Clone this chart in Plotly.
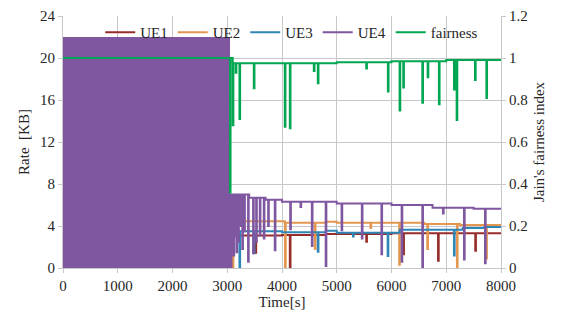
import numpy as np
import plotly.graph_objects as go

# ---------------- data ----------------
# Burst phase: every UE oscillates rapidly between these bounds [KB]
burst_t = [0, 3050]
burst_low = [0, 0]
burst_high = [22, 22]

# Steady phase: base levels (step breakpoints) and short dips, Rate [KB]
ue1_base_t = [3050, 4000, 4800, 6000, 8000]
ue1_base_v = [3.1, 3.15, 3.25, 3.3, 3.3]
ue1_dip_t = [3516, 4143, 5539, 6215, 6850, 7530]
ue1_dip_v = [1.45, 0.0, 2.5, 1.3, 0.7, 1.65]

ue2_base_t = [3050, 4050, 4800, 5000, 6600, 7250, 8000]
ue2_base_v = [4.45, 4.3, 4.4, 4.3, 4.2, 4.1, 4.1]
ue2_dip_t = [3100, 4055, 4600, 5617, 6140, 6654, 7195, 7730]
ue2_dip_v = [0.0, 0.0, 1.8, 3.8, 0.3, 1.8, 0.1, 0.9]

ue3_base_t = [3050, 4000, 4800, 5000, 6150, 7300, 7700, 8000]
ue3_base_v = [3.5, 3.4, 3.55, 3.35, 3.65, 3.8, 3.9, 3.95]
ue3_dip_t = [3223, 3485, 4654, 5297, 5930, 7141]
ue3_dip_v = [0.0, 1.4, 1.55, 3.0, 1.15, 1.2]

ue4_base_t = [3050, 3400, 3700, 4000, 5000, 6000, 6750, 7500, 8000]
ue4_base_v = [7.0, 6.7, 6.5, 6.3, 6.15, 6.0, 5.75, 5.65, 5.6]
ue4_dip_t = [3065, 3090, 3115, 3140, 3170, 3200, 3240, 3275, 3310, 3380,
             3472, 3528, 3594, 3667, 3747, 3868, 4150, 4338, 4545, 4798,
             5088, 5458, 5816, 6185, 6563, 6940, 7324, 7708]
ue4_dip_v = [0.0, 2.0, 1.2, 3.0, 1.5, 2.5, 4.0, 1.8, 3.5, 0.6,
             1.4, 2.5, 3.1, 2.8, 4.0, 1.7, 3.7, 5.8, 2.1, 0.2,
             3.6, 2.8, 1.3, 0.6, 0.0, 5.2, 0.8, 0.45]

# Jain's fairness index
fair_base_t = [0, 3060, 5000, 6000, 7000, 8000]
fair_base_v = [1.0, 0.975, 0.98, 0.985, 0.99, 0.99]
fair_dip_t = [3050, 3100, 3155, 3223, 3485, 4051, 4143, 4581, 4654, 5539,
              5934, 6148, 6215, 6563, 6660, 6866, 7141, 7190, 7525, 7733]
fair_dip_v = [0.36, 0.68, 0.93, 0.71, 0.856, 0.673, 0.665, 0.938, 0.88, 0.95,
              0.84, 0.75, 0.86, 0.787, 0.908, 0.78, 0.85, 0.705, 0.895, 0.81]

# ---------------- styling ----------------
C_UE1 = "#962D2B"
C_UE2 = "#E4964F"
C_UE3 = "#2E86B6"
C_UE4 = "#7F56A0"
C_FAIR = "#00A651"
GRID = "#C8C8C8"
FONT = "Liberation Serif, Times New Roman, serif"
TXT = "#262626"


def spiky(base_t, base_v, dip_t, dip_v, w=12):
    pts = list(zip(base_t, base_v))
    for t, v in zip(dip_t, dip_v):
        idx = int(np.searchsorted(base_t, t, side="right")) - 1
        lvl = base_v[max(idx, 0)]
        pts.append((t, v))
        pts.append((t + w, lvl))
    pts.sort(key=lambda p: p[0])
    xs, ys = zip(*pts)
    return list(xs), list(ys)


fig = go.Figure()

for name, col, bt, bv, dt, dv in [
    ("UE1", C_UE1, ue1_base_t, ue1_base_v, ue1_dip_t, ue1_dip_v),
    ("UE2", C_UE2, ue2_base_t, ue2_base_v, ue2_dip_t, ue2_dip_v),
    ("UE3", C_UE3, ue3_base_t, ue3_base_v, ue3_dip_t, ue3_dip_v),
]:
    x, y = spiky(bt, bv, dt, dv)
    fig.add_trace(go.Scatter(x=x, y=y, name=name, mode="lines",
                             line=dict(color=col, width=2, shape="hv")))

# UE4 burst band
fig.add_trace(go.Scatter(x=burst_t, y=burst_low, mode="lines", showlegend=False,
                         line=dict(width=0, color=C_UE4), hoverinfo="skip"))
fig.add_trace(go.Scatter(x=burst_t, y=burst_high, mode="lines", showlegend=False,
                         fill="tonexty", fillcolor=C_UE4,
                         line=dict(width=0, color=C_UE4), hoverinfo="skip"))
x4, y4 = spiky(ue4_base_t, ue4_base_v, ue4_dip_t, ue4_dip_v)
x4 = [burst_t[-1]] + x4
y4 = [burst_low[-1]] + y4
fig.add_trace(go.Scatter(x=x4, y=y4, name="UE4", mode="lines",
                         line=dict(color=C_UE4, width=2, shape="hv")))

xf, yf = spiky(fair_base_t, fair_base_v, fair_dip_t, fair_dip_v)
fig.add_trace(go.Scatter(x=xf, y=yf, name="fairness", mode="lines", yaxis="y2",
                         line=dict(color=C_FAIR, width=2, shape="hv")))

axis_common = dict(
    showline=True, linecolor=GRID, linewidth=1,
    ticks="outside", ticklen=4, tickcolor=GRID,
    tickfont=dict(family=FONT, size=15, color=TXT),
    zeroline=False, automargin=False,
)

fig.update_layout(
    width=566, height=322,
    margin=dict(l=63, r=65, t=16, b=54, autoexpand=False),
    paper_bgcolor="white", plot_bgcolor="white",
    font=dict(family=FONT, size=15, color=TXT),
    xaxis=dict(range=[0, 8000], dtick=1000, showgrid=True, gridcolor=GRID,
               gridwidth=1, title=dict(text="Time[s]", standoff=2,
                                      font=dict(family=FONT, size=15, color=TXT)),
               **axis_common),
    yaxis=dict(range=[0, 24], dtick=4, showgrid=True, gridcolor=GRID, gridwidth=1,
               title=dict(text="Rate  [KB]", standoff=6,
                          font=dict(family=FONT, size=15, color=TXT)),
               **axis_common),
    yaxis2=dict(range=[0, 1.2], dtick=0.2, overlaying="y", side="right",
                showgrid=False,
                title=dict(text="Jain's fairness index", standoff=6,
                           font=dict(family=FONT, size=15, color=TXT)),
                **axis_common),
    legend=dict(orientation="h", x=0.085, y=1.0, xanchor="left", yanchor="top",
                bgcolor="rgba(0,0,0,0)",
                traceorder="normal", itemwidth=30,
                font=dict(family=FONT, size=15, color=TXT),
                tracegroupgap=0),
    showlegend=True,
)

fig.write_html("out.html",
               config={"displayModeBar": False},
               post_script="document.body.style.margin='0';document.body.style.overflow='hidden';")
